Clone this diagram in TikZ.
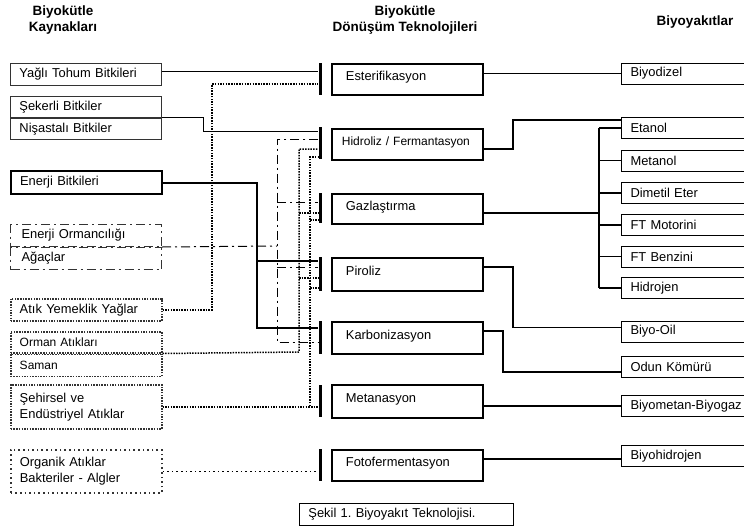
\documentclass[tikz,border=0pt]{standalone}
\usepackage{fontspec}
\setmainfont{Liberation Sans}
\usetikzlibrary{calc}
\frenchspacing
\newcommand\fA{\fontsize{12.9}{15.5}\selectfont}
\newcommand\fB{\fontsize{12}{14}\selectfont}
\newcommand\fH{\bfseries\fontsize{13.5}{15.5}\selectfont}
\begin{document}
\begin{tikzpicture}[x=1pt,y=-1pt,
 lbox/.style={draw=black!80, line width=0.9pt, text width=133pt, inner xsep=9pt, inner ysep=0pt, anchor=north west, align=left, font=\fA},
 mbox/.style={draw, line width=1.8pt, text width=123pt, inner xsep=14pt, inner ysep=0pt, text height=9.5pt, text depth=6.5pt, anchor=north west, align=left, font=\fA},
 rbox/.style={draw, line width=1pt, text width=112pt, inner xsep=9pt, inner ysep=0pt, minimum height=21pt, anchor=west, align=left, font=\fA},
 barn/.style={fill=black, inner sep=0pt, minimum width=3pt, anchor=north},
 dotl/.style={line width=1.5pt, dash pattern=on 1.5pt off 1.2pt},
 dotw/.style={line width=1.6pt, dash pattern=on 1.6pt off 3pt},
 dashdot/.style={line width=1pt, dash pattern=on 9pt off 4pt on 2pt off 4pt},
 sol/.style={line width=0.9pt},
 thk/.style={line width=2pt},
 rcon/.style={line width=1.5pt},
 head/.style={font=\fH, align=center}]
\useasboundingbox (0,0) rectangle (744,528);
\fill[white] (0,0) rectangle (744,528);

% headings
\node[head] (hd1) at (63,20) {Biyokütle\\Kaynakları};
\node[head] (hd2) at (405,20) {Biyokütle\\Dönüşüm Teknolojileri};
\node[head] (hd3) at (695,22) {Biyoyakıtlar};

% left boxes
\node[lbox, minimum height=22pt] (yagli) at (10,63) {Yağlı Tohum Bitkileri};
\node[lbox, minimum height=21pt] (seker) at (10,96) {Şekerli Bitkiler};
\node[lbox, minimum height=21pt] (nisasta) at (seker.south west) {Nişastalı Bitkiler};
\node[lbox, draw=black, line width=2pt, minimum height=23pt] (enerji) at (10,170) {Enerji Bitkileri};
\node[lbox, dashdot, minimum height=22pt] (eorm) at (10,224) {\hspace*{2pt}Enerji Ormancılığı};
\node[lbox, dashdot, minimum height=22pt] (agac) at (eorm.south west) {\hspace*{2pt}Ağaçlar};
\node[lbox, dotl, minimum height=22pt] (atik) at (10,298) {Atık Yemeklik Yağlar};
\node[lbox, dotl, font=\fB, minimum height=21pt] (orman) at (10,331) {Orman Atıkları};
\node[lbox, dotl, font=\fB, minimum height=22pt] (saman) at (orman.south west) {Saman};
\node[lbox, dotl, minimum height=44pt, font=\fontsize{12.9}{16}\selectfont] (sehir) at (10,384) {Şehirsel ve\\Endüstriyel Atıklar};
\node[lbox, dotw, minimum height=43pt] (organik) at (10,449) {Organik Atıklar\\Bakteriler - Algler};

% middle boxes
\node[mbox, minimum height=31pt] (est) at (331,63) {Esterifikasyon};
\node[mbox, minimum height=31pt, inner xsep=10pt, text width=131pt, font=\fB] (hid) at (331,128) {Hidroliz / Fermantasyon};
\node[mbox, minimum height=30pt] (gaz) at (331,193) {Gazlaştırma};
\node[mbox, minimum height=33pt] (pir) at (331,257) {Piroliz};
\node[mbox, minimum height=32pt] (karb) at (331,321) {Karbonizasyon};
\node[mbox, minimum height=33pt] (met) at (331,384) {Metanasyon};
\node[mbox, minimum height=31pt] (foto) at (331,449) {Fotofermentasyon};

% bars
\node[barn, minimum height=32pt] (bEst) at (320,63) {};
\node[barn, minimum height=32pt] (bHid) at (320,127) {};
\node[barn, minimum height=30pt] (bGaz) at (320,193) {};
\node[barn, minimum height=34pt] (bPir) at (320,257) {};
\node[barn, minimum height=33pt] (bKarb) at (320,321) {};
\node[barn, minimum height=32pt] (bMet) at (320,385) {};
\node[barn, minimum height=32pt] (bFoto) at (320,449) {};

% right boxes
\node[rbox] (biyodizel) at (621,73.5) {Biyodizel};
\node[rbox] (etanol) at (621,128) {Etanol};
\node[rbox] (metanol) at (621,160.5) {Metanol};
\node[rbox] (dimetil) at (621,193) {Dimetil Eter};
\node[rbox] (ftm) at (621,225) {FT Motorini};
\node[rbox] (ftb) at (621,256.5) {FT Benzini};
\node[rbox] (hidrojen) at (621,288) {Hidrojen};
\node[rbox] (biyooil) at (621,331.5) {Biyo-Oil};
\node[rbox] (odun) at (621,366.5) {Odun Kömürü};
\node[rbox] (biyometan) at (621,406) {Biyometan-Biyogaz};
\node[rbox] (biyohid) at (621,456) {Biyohidrojen};

% caption
\node[lbox, draw=black, text width=196pt, minimum height=22pt] (cap) at (299,503) {Şekil 1. Biyoyakıt Teknolojisi.};

% ---- left connectors
\draw[sol] ($(yagli.east)+(0,-3)$) coordinate (ya) -- (ya -| bEst.west);
\coordinate (sk) at (203,131);
\draw[sol] (seker.south east) -| (sk) -- (sk -| bHid.west);

\coordinate (en1) at (257,261); \coordinate (en2) at (257,328);
\draw[thk] (enerji.east) -| (en2) -- (en2 -| bKarb.west);
\draw[thk] (en1) -- (en1 -| bPir.west);

\coordinate (dd0) at (277,246); \coordinate (dd1) at (277,139);
\coordinate (dd2) at (277,202); \coordinate (dd3) at (277,267);
\coordinate (dd4) at (277,342);
\draw[dashdot] (eorm.south east) -- (dd0);
\draw[dashdot] (dd1 -| bHid.west) -- (dd1) -- (dd4) -- (dd4 -| bKarb.west);
\draw[dashdot] (dd2) -- (dd2 -| bGaz.west);
\draw[dashdot] (dd3) -- (dd3 -| bPir.west);

\coordinate (o0) at (299,352); \coordinate (o1) at (299,149);
\coordinate (o2) at (299,213); \coordinate (o3) at (299,278);
\draw[dotl] (orman.south east) -- (o0) -- (o1) -- (o1 -| bHid.west);
\draw[dotl] (o2) -- (o2 -| bGaz.west);
\draw[dotl] (o3) -- (o3 -| bPir.west);

\coordinate (s0) at (310,406); \coordinate (s1) at (310,157);
\coordinate (s2) at (310,220); \coordinate (s3) at (310,288);
\draw[dotl] (sehir.east) -- (sehir.east -| bMet.west);
\draw[dotl] (s0) -- (s1) -- (s1 -| bHid.west);
\draw[dotl] (s2) -- (s2 -| bGaz.west);
\draw[dotl] (s3) -- (s3 -| bPir.west);

\coordinate (a1) at (212,84);
\draw[dotl] (atik.east) -| (a1) -- (a1 -| bEst.west);

\draw[dotw] (organik.east) -- (organik.east -| bFoto.west);

% ---- right connectors
\draw[rcon] (biyodizel.west -| est.east) -- (biyodizel.west);
\coordinate (h1) at (513,149);
\draw[rcon] (h1 -| hid.east) -- (h1) |- ($(etanol.west)+(0,-8)$);
\coordinate (g0) at (599,213);
\draw[rcon] (g0 -| gaz.east) -- (g0);
\draw[rcon] (etanol.west -| g0) -- (hidrojen.west -| g0);
\foreach \n in {etanol,metanol,dimetil,ftm,ftb,hidrojen}
  \draw[rcon] (\n.west -| g0) -- (\n.west);
\coordinate (p1) at (513,267);
\draw[rcon] (p1 -| pir.east) -- (p1) |- ($(biyooil.west)+(0,-4)$);
\coordinate (k1) at (503,331);
\draw[rcon] (k1 -| karb.east) -- (k1) |- ($(odun.west)+(0,5.5)$);
\draw[rcon] (biyometan.west -| met.east) -- (biyometan.west);
\draw[rcon] ($(biyohid.west)+(0,3)$) coordinate (fh) -- (fh -| foto.east);
\end{tikzpicture}
\end{document}
